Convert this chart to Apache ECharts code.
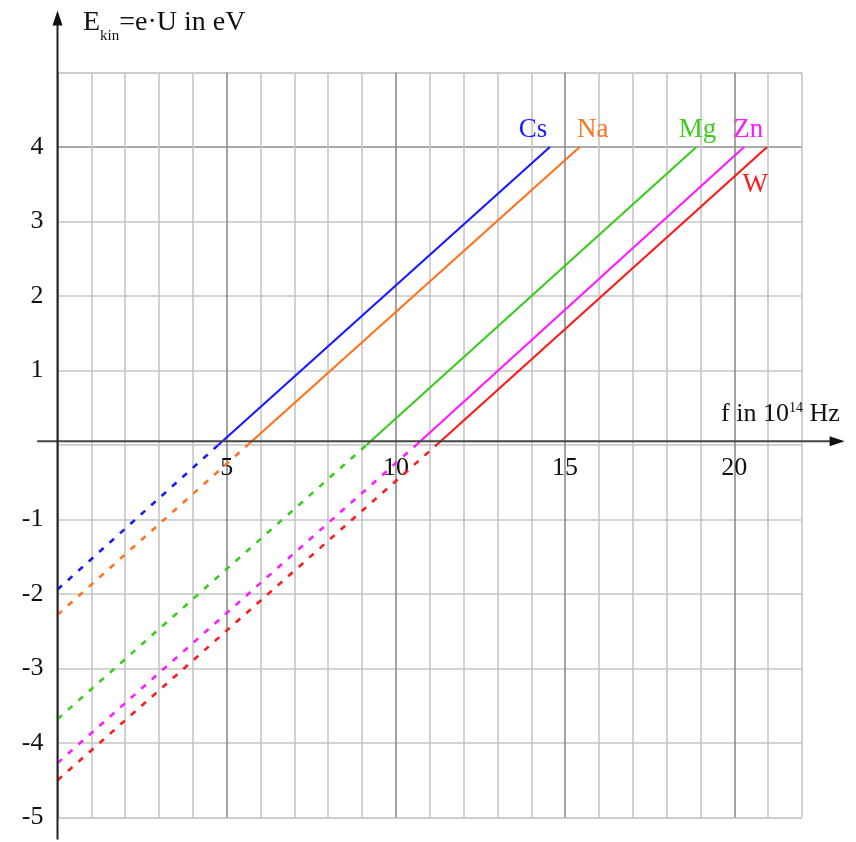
<!DOCTYPE html>
<html>
<head>
<meta charset="utf-8">
<script src="https://cdn.jsdelivr.net/npm/echarts@6/dist/echarts.min.js"></script>
<style>
  html, body { margin: 0; padding: 0; background: #ffffff; }
  #chart { width: 856px; height: 842px; }
</style>
</head>
<body>
<div id="chart"></div>
<script>
// Photoelectric effect: kinetic energy of emitted electrons vs. light frequency
const metals = ['Cs', 'Na', 'Mg', 'Zn', 'W'];
const metalColors = ['#1a1aff', '#ff7320', '#3ccc1e', '#ff1aff', '#ff1a1a'];
// energy at f = 0 (negative work function), in eV
const intercepts = [-1.94, -2.28, -3.68, -4.27, -4.5];
// threshold frequency (E = 0), in 10^14 Hz
const thresholds = [4.75, 5.62, 9.13, 10.6, 11.2];
// end of each solid line
const endFreqs = [14.55, 15.43, 18.88, 20.29, 20.97];
const endEnergies = [4, 4, 4, 4, 4];

const xTickLabels = [5, 10, 15, 20];
const yTickLabels = [4, 3, 2, 1, -1, -2, -3, -4, -5];

// label offset (label centre relative to the end of each line)
const labelOffsets = {
  Cs: [-17, -17],
  Na: [13, -17],
  Mg: [1, -17],
  Zn: [4, -17],
  W:  [-12, 38]
};

const serif = '"Liberation Serif", "DejaVu Serif", serif';

const series = [];
metals.forEach((m, i) => {
  // extrapolated part below the threshold
  series.push({
    name: m + ' (extrapolated)',
    type: 'line',
    symbol: 'none',
    silent: true,
    lineStyle: { color: metalColors[i], width: 2.6, type: [6, 8] },
    data: [[0, intercepts[i]], [thresholds[i], 0]],
    z: 3
  });
  // measured part above the threshold
  series.push({
    name: m,
    type: 'line',
    symbol: 'none',
    silent: true,
    lineStyle: { color: metalColors[i], width: 2.2 },
    data: [[thresholds[i], 0], [endFreqs[i], endEnergies[i]]],
    markPoint: {
      silent: true,
      symbol: 'circle',
      symbolSize: 0,
      animation: false,
      data: [{
        coord: [endFreqs[i], endEnergies[i]],
        label: {
          show: true,
          formatter: m,
          position: 'inside',
          offset: labelOffsets[m],
          color: metalColors[i],
          fontFamily: serif,
          fontSize: 27
        }
      }]
    },
    z: 3
  });
});

const xMinorColor = '#c6c6c6';
const xMajorColor = '#8c8c8c';

const chart = echarts.init(document.getElementById('chart'), null, { renderer: 'canvas' });

const baseOption = {
  animation: false,
  backgroundColor: '#ffffff',
  grid: { left: 57.5, right: 54, top: 72.5, bottom: 24.5, containLabel: false },
  xAxis: {
    type: 'value',
    min: 0,
    max: 22,
    interval: 1,
    offset: 0,
    axisLine: { show: false, onZero: false },
    axisTick: { show: false },
    axisLabel: {
      margin: 6,
      fontFamily: serif,
      fontSize: 26,
      color: '#111',
      formatter: v => (xTickLabels.indexOf(v) >= 0 ? String(v) : '')
    },
    splitLine: {
      show: true,
      lineStyle: {
        width: 1.6,
        color: [xMajorColor, xMinorColor, xMinorColor, xMinorColor, xMinorColor]
      }
    }
  },
  yAxis: {
    type: 'value',
    min: -5,
    max: 5,
    interval: 1,
    axisLine: { show: false },
    axisTick: { show: false },
    axisLabel: {
      margin: 14,
      fontFamily: serif,
      fontSize: 26,
      color: '#111',
      formatter: v => (yTickLabels.indexOf(v) >= 0 ? String(v) : '')
    },
    splitLine: {
      show: true,
      lineStyle: {
        width: 1.6,
        color: ['#bdbdbd', '#c6c6c6', '#c6c6c6', '#c6c6c6', '#c6c6c6',
                '#c6c6c6', '#c6c6c6', '#c6c6c6', '#c6c6c6', '#8c8c8c']
      }
    }
  },
  series: series
};
chart.setOption(baseOption);

// Axis arrows and axis titles, positioned from data coordinates
const toPx = (x, y) => chart.convertToPixel({ xAxisIndex: 0, yAxisIndex: 0 }, [x, y]);
const xStart = toPx(-0.6, 0);
const xEnd = toPx(23.26, 0);
const yStart = toPx(0, -5.4);
const yEnd = toPx(0, 5.84);
// move the frequency axis (and its labels) up to E = 0
const zeroShift = toPx(0, 0)[1] - toPx(0, -5)[1];

chart.setOption({
  xAxis: { offset: zeroShift },
  graphic: [
    {
      type: 'line', z: 10, silent: true,
      shape: { x1: xStart[0], y1: xStart[1], x2: xEnd[0] - 10, y2: xEnd[1] },
      style: { stroke: '#444', lineWidth: 2 }
    },
    {
      type: 'polygon', z: 10, silent: true,
      shape: { points: [[xEnd[0], xEnd[1]], [xEnd[0] - 15, xEnd[1] - 5], [xEnd[0] - 15, xEnd[1] + 5]] },
      style: { fill: '#111' }
    },
    {
      type: 'line', z: 10, silent: true,
      shape: { x1: yStart[0], y1: yStart[1], x2: yEnd[0], y2: yEnd[1] + 10 },
      style: { stroke: '#222', lineWidth: 2 }
    },
    {
      type: 'polygon', z: 10, silent: true,
      shape: { points: [[yEnd[0], yEnd[1]], [yEnd[0] - 5, yEnd[1] + 15], [yEnd[0] + 5, yEnd[1] + 15]] },
      style: { fill: '#111' }
    },
    {
      type: 'text', z: 10, silent: true,
      x: 83, y: 5,
      style: {
        text: '{m|E}{s|kin}{m|=e·U in eV}',
        rich: {
          m: { fontFamily: serif, fontSize: 28, fill: '#111', verticalAlign: 'bottom', lineHeight: 32 },
          s: { fontFamily: serif, fontSize: 15, fill: '#111', verticalAlign: 'bottom', lineHeight: 24, padding: [0, 0, -7, 0] }
        }
      }
    },
    {
      type: 'text', z: 10, silent: true,
      x: 721, y: 399,
      style: {
        text: '{m|f in 10}{p|14}{m| Hz}',
        rich: {
          m: { fontFamily: serif, fontSize: 26, fill: '#111', lineHeight: 30 },
          p: { fontFamily: serif, fontSize: 14, fill: '#111', lineHeight: 30, padding: [0, 0, 12, 0] }
        }
      }
    }
  ]
});
</script>
</body>
</html>
